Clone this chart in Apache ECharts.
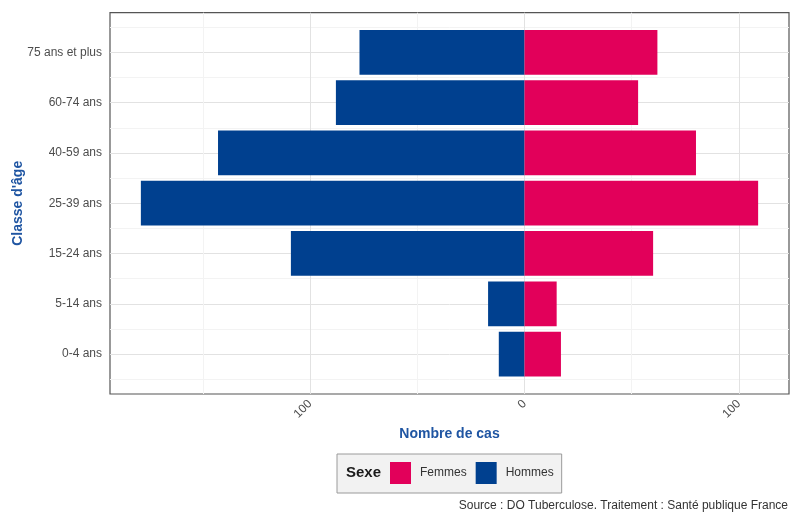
<!DOCTYPE html>
<html>
<head>
<meta charset="utf-8">
<script src="https://cdn.jsdelivr.net/npm/echarts@6/dist/echarts.min.js"></script>
<style>
html,body{margin:0;padding:0;background:#fff;}
#chart{width:790px;height:514px;}
</style>
</head>
<body>
<div id="chart"></div>
<script>
// Data (bottom to top)
const categories = ["0-4 ans", "5-14 ans", "15-24 ans", "25-39 ans", "40-59 ans", "60-74 ans", "75 ans et plus"];
const hommes = [12, 17, 109, 179, 143, 88, 77];
const femmes = [17, 15, 60, 109, 80, 53, 62];
const xMajorTicks = [-100, 0, 100];
const xMinorTicks = [-150, -50, 50];

const FONT = "'Liberation Sans', Arial, sans-serif";
const BLUE = '#00408f';
const PINK = '#e2005a';
const TITLE_BLUE = '#1f55a2';
const MAJOR = '#e2e2e2';
const MINOR = '#f3f3f3';

// axis range: data extent expanded by 5%
const dMin = -Math.max(...hommes), dMax = Math.max(...femmes);
const span = dMax - dMin;
const xMin = dMin - 0.05 * span, xMax = dMax + 0.05 * span;
const yPad = 0.787;
const catIdx = categories.map((_, i) => i);

const chart = echarts.init(document.getElementById('chart'), null, {renderer: 'canvas'});
chart.setOption({
  animation: false,
  backgroundColor: '#ffffff',
  textStyle: {fontFamily: FONT},
  grid: [
    {left: 110, right: 1, top: 12.7, bottom: 120, show: true, borderColor: '#555555', borderWidth: 1.2, backgroundColor: 'transparent', containLabel: false},
    {left: 110, right: 1, top: 27.2, bottom: 134.8, containLabel: false}
  ],
  xAxis: [
    {
      gridIndex: 0, type: 'value', min: xMin, max: xMax, position: 'bottom',
      axisLine: {show: false},
      axisTick: {show: false, customValues: xMajorTicks},
      axisLabel: {show: true, customValues: xMajorTicks, rotate: 45, margin: 8, color: '#4d4d4d', fontSize: 12, fontFamily: FONT,
        formatter: v => String(Math.abs(v))},
      splitLine: {show: true, lineStyle: {color: MAJOR, width: 1}},
      name: 'Nombre de cas', nameLocation: 'middle', nameGap: 29,
      nameTextStyle: {color: TITLE_BLUE, fontWeight: 'bold', fontSize: 14, fontFamily: FONT}
    },
    {
      gridIndex: 0, type: 'value', min: xMin, max: xMax, position: 'top',
      axisLine: {show: false},
      axisTick: {show: false, customValues: xMinorTicks},
      axisLabel: {show: false},
      splitLine: {show: true, lineStyle: {color: MINOR, width: 1}}
    },
    {
      gridIndex: 1, type: 'value', min: xMin, max: xMax,
      axisLine: {show: false}, axisTick: {show: false}, axisLabel: {show: false}, splitLine: {show: false}
    }
  ],
  yAxis: [
    {
      gridIndex: 0, type: 'value', min: -yPad, max: categories.length - 1 + yPad,
      axisLine: {show: false},
      axisTick: {show: false, customValues: catIdx},
      axisLabel: {show: false},
      splitLine: {show: true, lineStyle: {color: MAJOR, width: 1}},
      name: "Classe d'âge", nameLocation: 'middle', nameGap: 85, nameRotate: 90,
      nameTextStyle: {color: TITLE_BLUE, fontWeight: 'bold', fontSize: 14, fontFamily: FONT}
    },
    {
      gridIndex: 1, type: 'category', data: categories,
      axisLine: {show: false}, axisTick: {show: false},
      axisLabel: {color: '#4d4d4d', fontSize: 12, margin: 8, fontFamily: FONT, interval: 0},
      splitLine: {show: true, interval: 0, lineStyle: {color: MINOR, width: 1}}
    }
  ],
  legend: {
    left: 337, top: 454,
    orient: 'horizontal',
    padding: [8, 8, 9, 53],
    backgroundColor: '#f2f2f2', borderColor: '#9a9a9a', borderWidth: 1, borderRadius: 0,
    itemWidth: 21, itemHeight: 22, itemGap: 9,
    icon: 'rect',
    data: ['Femmes', 'Hommes'],
    textStyle: {color: '#333333', fontSize: 12, fontFamily: FONT, padding: [0, 0, 0, 4]},
    selectedMode: false
  },
  graphic: [
    {type: 'text', left: 346, top: 465, z: 100, zlevel: 0, style: {text: 'Sexe', fill: '#1a1a1a', font: 'bold 15px ' + FONT}},
    {type: 'text', right: 2, top: 500, z: 100, style: {text: 'Source : DO Tuberculose. Traitement : Santé publique France', fill: '#333333', font: '12px ' + FONT}}
  ],
  series: [
    {
      name: 'Hommes', type: 'bar', xAxisIndex: 2, yAxisIndex: 1, stack: 'pyr',
      barCategoryGap: '11%', itemStyle: {color: BLUE},
      data: hommes.map(v => -v)
    },
    {
      name: 'Femmes', type: 'bar', xAxisIndex: 2, yAxisIndex: 1, stack: 'pyr',
      barCategoryGap: '11%', itemStyle: {color: PINK},
      data: femmes
    }
  ]
});
</script>
</body>
</html>
